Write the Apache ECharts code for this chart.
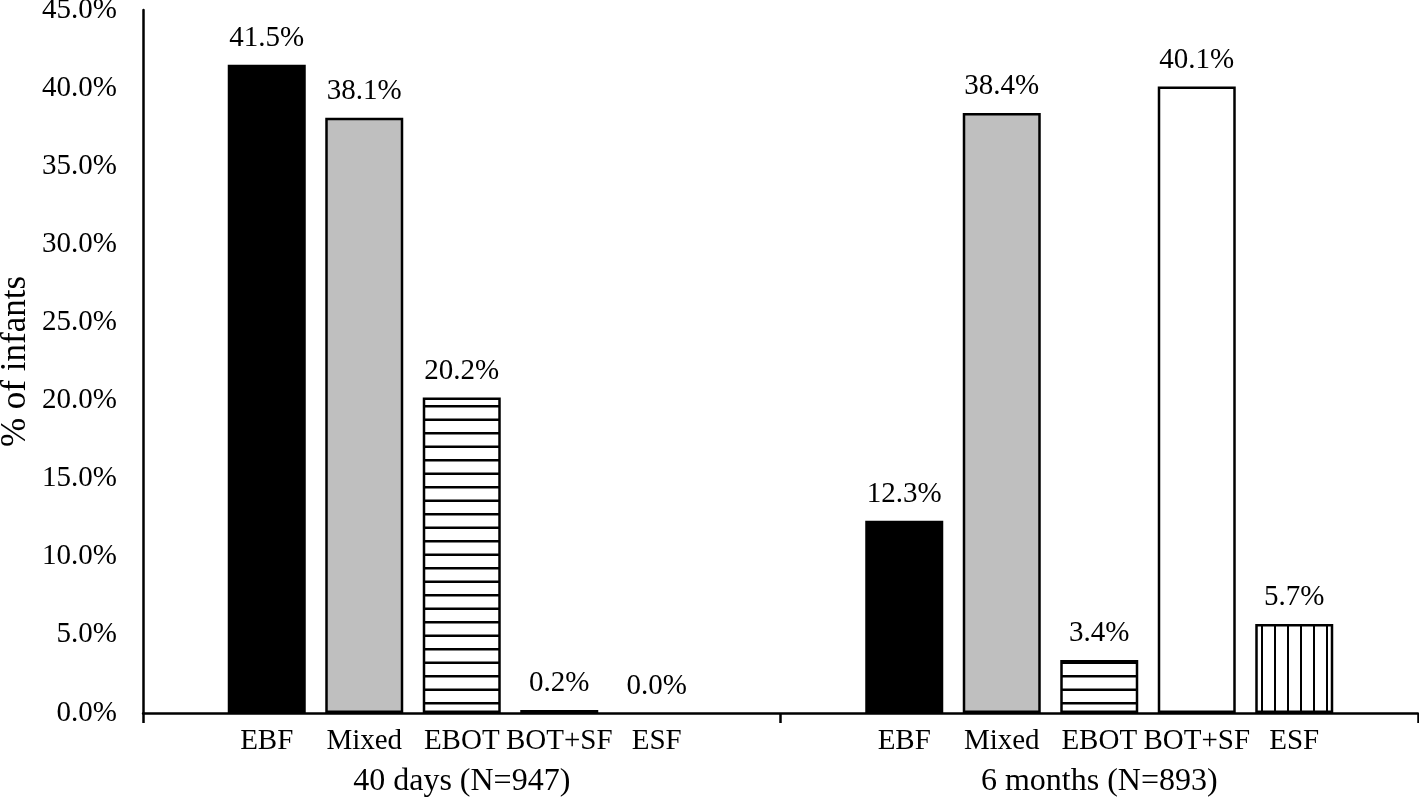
<!DOCTYPE html>
<html>
<head>
<meta charset="utf-8">
<script src="https://cdn.jsdelivr.net/npm/echarts@6/dist/echarts.min.js"></script>
<style>html,body{margin:0;padding:0;background:#fff}#c{width:1419px;height:800px}</style>
</head>
<body>
<div id="c"></div>
<script>
const groups = ['40 days (N=947)', '6 months (N=893)'];
const types = ['EBF', 'Mixed', 'EBOT', 'BOT+SF', 'ESF'];
const ebf = [41.5, 12.3];
const mixed = [38.1, 38.4];
const ebot = [20.2, 3.4];
const botsf = [0.2, 40.1];
const esf = [0.0, 5.7];
const yTicks = [0, 5, 10, 15, 20, 25, 30, 35, 40, 45];

function hPattern() {
  const c = document.createElement('canvas');
  c.width = 20; c.height = 27;
  const g = c.getContext('2d');
  g.fillStyle = '#fff'; g.fillRect(0, 0, 20, 27);
  g.fillStyle = '#000';
  g.fillRect(0, 0, 20, 2.5);
  g.fillRect(0, 13.5, 20, 2.5);
  return c;
}
function vPattern() {
  const c = document.createElement('canvas');
  c.width = 13; c.height = 20;
  const g = c.getContext('2d');
  g.fillStyle = '#fff'; g.fillRect(0, 0, 13, 20);
  g.fillStyle = '#000';
  g.fillRect(0, 0, 2, 20);
  return c;
}

const FONT = 'Liberation Serif';
const BW = 78;
const fills = [
  '#000000',
  '#bfbfbf',
  { image: hPattern(), repeat: 'repeat' },
  '#ffffff',
  { image: vPattern(), repeat: 'repeat' }
];
const values = [ebf, mixed, ebot, botsf, esf];

const series = [];
types.forEach((t, i) => {
  // helper (zero-height) series carrying the sub-category label under the axis
  series.push({
    type: 'bar', stack: 's' + i, barWidth: BW, barGap: '25%',
    data: groups.map(() => 0),
    itemStyle: { color: 'rgba(0,0,0,0)', borderWidth: 0 },
    label: { show: true, position: 'bottom', distance: 14, formatter: t,
      fontFamily: FONT, fontSize: 29, color: '#000' },
    silent: true, z: 1
  });
  series.push({
    type: 'bar', name: t, stack: 's' + i, barWidth: BW, barGap: '25%',
    data: values[i].map(v => (v === 0 ? { value: v, itemStyle: { borderWidth: 0 } } : v)),
    itemStyle: { color: fills[i], borderColor: '#000', borderWidth: 2.5 },
    label: { show: true, position: 'top', distance: 12,
      formatter: p => p.value.toFixed(1) + '%',
      fontFamily: FONT, fontSize: 29, color: '#000' },
    z: 2
  });
});

const chart = echarts.init(document.getElementById('c'), null, { renderer: 'canvas' });
chart.setOption({
  animation: false,
  backgroundColor: '#fff',
  grid: { left: 143, right: 1, top: 10, bottom: 87, containLabel: false, outerBoundsMode: 'none' },
  xAxis: {
    type: 'category', data: groups,
    axisLine: { lineStyle: { color: '#000', width: 2.5 } },
    axisTick: { show: true, alignWithLabel: false, length: 10, lineStyle: { color: '#000', width: 2.5 } },
    axisLabel: { margin: 53, fontFamily: FONT, fontSize: 32, color: '#000' }
  },
  yAxis: {
    type: 'value', min: 0, max: 45, interval: 5,
    name: '% of infants', nameLocation: 'middle', nameGap: 110, nameMoveOverlap: false,
    nameTextStyle: { fontFamily: FONT, fontSize: 35, color: '#000' },
    axisLine: { show: true, lineStyle: { color: '#000', width: 2.5 } },
    axisTick: { show: false },
    splitLine: { show: false },
    axisLabel: { margin: 26, fontFamily: FONT, fontSize: 29, color: '#000',
      formatter: v => (yTicks.includes(v) ? v.toFixed(1) + '%' : '') }
  },
  series: series
});
</script>
</body>
</html>
